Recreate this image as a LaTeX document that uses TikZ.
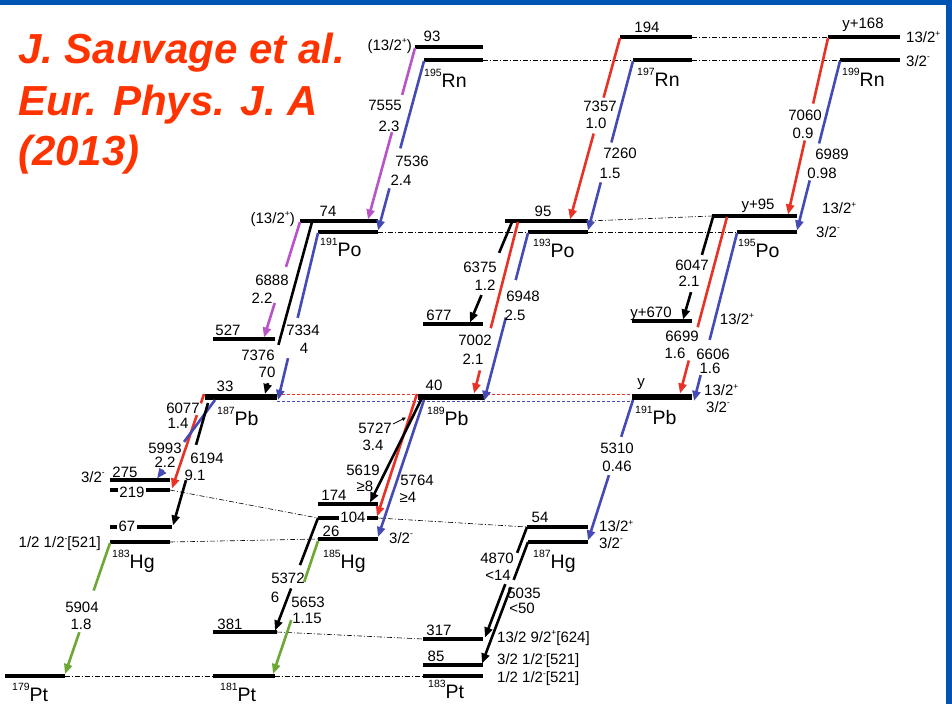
\documentclass[tikz,border=0pt]{standalone}
\usepackage{fontspec}
\setmainfont{Liberation Sans}
\usetikzlibrary{arrows.meta,calc}

\definecolor{tred}{RGB}{232,50,38}
\definecolor{tblue}{RGB}{70,74,180}
\definecolor{tmag}{RGB}{184,84,200}
\definecolor{tgreen}{RGB}{108,168,52}
\definecolor{ttitle}{RGB}{255,51,0}
\definecolor{tframe}{RGB}{0,84,180}

% nucleus label: mass number raised before the element symbol
\newcommand\nuc[2]{\raisebox{10.5pt}{\fontsize{10.5}{10.5}\selectfont #1}#2}
% spin/parity with a small raised parity sign
\newcommand\spin[2]{#1\raisebox{6.5pt}{\fontsize{8.5}{8.5}\selectfont #2}}
% alpha transition between two named points
\newcommand\decay[4]{\coordinate (#2a) at (#3); \coordinate (#2b) at (#4);
  \draw[trans,#1] (#2a) -- (#2b);}
% white break in a transition line (fractions along it)
\newcommand\trgap[3]{\draw[gapline] ($(#1a)!#2!(#1b)$) -- ($(#1a)!#3!(#1b)$);}

\tikzset{
  lvl/.style={line width=3.2pt},
  pblvl/.style={line width=6pt},
  gslvl/.style={line width=4.2pt},
  trans/.style={line width=2.6pt,-{Triangle[length=10pt,width=8pt]}},
  gapline/.style={white,line width=5pt},
  ddot/.style={line width=0.6pt,dash pattern=on 5pt off 2pt on 1pt off 2pt},
  pbdot/.style={line width=1pt,dash pattern=on 2.5pt off 2.5pt},
  lab/.style={font=\fontsize{15}{15}\selectfont,inner sep=1pt},
  slab/.style={lab,inner sep=0pt},
  wlab/.style={lab,fill=white,inner sep=1.5pt},
  nucl/.style={font=\fontsize{19.5}{19.5}\selectfont,inner sep=0pt,anchor=base west},
  ttl/.style={font=\fontsize{42}{42}\selectfont\bfseries\itshape,text=ttitle,inner sep=0pt,anchor=base west},
}

\begin{document}
\begin{tikzpicture}[x=1pt,y=-1pt]
\useasboundingbox (0,0) rectangle (952,704);
\fill[white] (0,0) rectangle (952,704);

% frame
\fill[tframe] (0,0) rectangle (952,5);
\fill[tframe] (946,0) rectangle (952,704);

% title
\node[ttl] (t1) at (18,63) {J. Sauvage et al.};
\node[ttl] (t2) at (18,115) {Eur. Phys. J. A};
\node[ttl] (t3) at (18,165) {(2013)};

% level end points
\foreach \n/\xa/\xb/\y in {
  rn5i/415/483/47, rn5g/424/483/60, rn7i/620/692/37, rn7g/633/692/60,
  rn9i/828/900/37, rn9g/840/900/60,
  po1i/300/378/221, po1g/318/378/232, po3i/505/588/221, po3g/528/588/232,
  po5i/712/797/216, po5g/737/797/232,
  l527/213/275/339, l677/423/483/324, l670/632/692/321,
  pb7/205/277/397, pb9/418/484/397, pb1/632/692/397,
  l275/110/170/480, l219/110/170/490, l67/110/172/527, hg3/110/170/542,
  l174/318/378/504, l104/318/378/518, hg5/318/378/539,
  hg7i/527/588/527, hg7g/528/588/542,
  pt9/5/65/676, l381/213/277/632, pt1/213/275/676,
  l317/423/483/639, l85/423/483/665, pt3/423/483/676}
  {\coordinate (\n-l) at (\xa,\y); \coordinate (\n-r) at (\xb,\y);}

% dash-dotted links between corresponding levels
\draw[ddot] (rn5g-r) -- (rn7g-l);
\draw[ddot] (rn7i-r) -- (rn9i-l);
\draw[ddot] (rn7g-r) -- (rn9g-l);
\draw[ddot] (po1g-r) -- (po3g-l);
\draw[ddot] (po3i-r) -- (po5i-l);
\draw[ddot] (po3g-r) -- (po5g-l);
\draw[ddot] (l219-r) -- (l104-l);
\draw[ddot] (l104-r) -- (hg7i-l);
\draw[ddot] (hg3-r) -- (hg5-l);
\draw[ddot] (pt9-r) -- (pt1-l);
\draw[ddot] (l381-r) -- (l317-l);
\draw[ddot] (pt1-r) -- (pt3-l);

% dotted links between the Pb levels
\draw[pbdot,tred] ($(pb7-r)+(0,-2.5)$) -- ($(pb1-l)+(0,-2.5)$);
\draw[pbdot,tblue] ($(pb7-r)+(0,4)$) -- ($(pb1-l)+(0,4)$);

% levels
\foreach \n in {rn5i,rn5g,rn7i,rn7g,rn9i,rn9g,po1i,po1g,po3i,po3g,po5i,po5g,
  l527,l677,l670,l275,l219,l67,hg3,l174,l104,hg7i,hg7g,l381,l317,l85}
  \draw[lvl] (\n-l) -- (\n-r);
\foreach \n in {pb7,pb9,pb1} \draw[pblvl] (\n-l) -- (\n-r);
\foreach \n in {hg5,pt9,pt1,pt3} \draw[gslvl] (\n-l) -- (\n-r);

% Rn -> Po
\decay{tmag}{t7555}{415,48}{368,219.5}   \trgap{t7555}{0.274}{0.49}
\decay{tblue}{t7536}{424,61}{378,230.5}  \trgap{t7536}{0.516}{0.751}
\decay{tred}{t7357}{620,38}{570,219.5}   \trgap{t7357}{0.329}{0.526}
\decay{tblue}{t7260}{633,61}{588,230.5}  \trgap{t7260}{0.481}{0.716}
\decay{tred}{t7060}{828,38}{788,214.5}   \trgap{t7060}{0.372}{0.58}
\decay{tblue}{t6989}{840,61}{797,230.5}  \trgap{t6989}{0.487}{0.704}

% Po -> Pb
\decay{tmag}{t6888}{300,222}{264,337.5}  \trgap{t6888}{0.39}{0.70}
\decay{black}{t7376}{312,222}{265,394}   \trgap{t7376}{0.715}{0.936}
\decay{tblue}{t7334}{318,233}{278,400}   \trgap{t7334}{0.509}{0.749}
\decay{black}{t6375}{512,222}{470,322.5} \trgap{t6375}{0.308}{0.726}
\decay{tred}{t7002}{518,222}{474,393.5}  \trgap{t7002}{0.62}{0.865}
\decay{tblue}{t6948}{528,233}{484,401}   \trgap{t6948}{0.281}{0.503}
\decay{black}{t6047}{713,217}{683,319.5} \trgap{t6047}{0.371}{0.732}
\decay{tred}{t6699}{727,217}{680,393.5}  \trgap{t6699}{0.625}{0.8125}
\decay{tblue}{t6606}{737,233}{694,401}   \trgap{t6606}{0.637}{0.845}

% Pb -> Hg
\decay{tred}{t6077}{204,394}{172,488.5}  \trgap{t6077}{0.1}{0.222}
\decay{tblue}{t5993}{215,400}{157,478.5} \trgap{t5993}{0.535}{0.89}
\decay{black}{t6194}{208,403}{173,525.5} \trgap{t6194}{0.343}{0.629}
\decay{tred}{t5800}{417,394}{377,516.5}
\decay{black}{t5727}{422,398}{370,502.5}
\decay{tblue}{t5764}{424,400}{378,537}
\decay{tblue}{t5310}{633,400}{588,540.5} \trgap{t5310}{0.263}{0.534}

% Hg -> Pt
\decay{tgreen}{t5904}{110,543}{65,674}   \trgap{t5904}{0.364}{0.68}
\decay{black}{t5372}{318,518}{275,630.5} \trgap{t5372}{0.42}{0.625}
\decay{tgreen}{t5653}{318,541}{273,674}  \trgap{t5653}{0.308}{0.594}
\decay{black}{t4870}{527,527}{485,637.5} \trgap{t4870}{0.235}{0.516}
\decay{black}{t5035}{528,542}{482,663.5} \trgap{t5035}{0.313}{0.37}

% pointer to the 5727 line
\coordinate (p1) at (393,424);
\coordinate (p2) at (406,417.5);
\draw[line width=0.8pt,-{Triangle[length=4pt,width=3.5pt]}] (p1) -- (p2);

% transition labels: energy / intensity
\node[lab] (a7555) at (385,105) {7555}; \node[lab] (i7555) at (389,126) {2.3};
\node[lab] (a7536) at (412,161) {7536}; \node[lab] (i7536) at (401,180) {2.4};
\node[lab] (a7357) at (600,106) {7357}; \node[lab] (i7357) at (596,123) {1.0};
\node[lab] (a7260) at (620,153) {7260}; \node[lab] (i7260) at (610,173) {1.5};
\node[lab] (a7060) at (805,115) {7060}; \node[lab] (i7060) at (803,133) {0.9};
\node[lab] (a6989) at (832,154) {6989}; \node[lab] (i6989) at (822,173) {0.98};
\node[lab] (a6888) at (272,280) {6888}; \node[lab] (i6888) at (262,298) {2.2};
\node[lab] (a7376) at (258,355) {7376}; \node[lab] (i7376) at (267,372) {70};
\node[lab] (a7334) at (303,330) {7334}; \node[lab] (i7334) at (304,348) {4};
\node[lab] (a6375) at (480,267) {6375}; \node[lab] (i6375) at (485,285) {1.2};
\node[lab] (a7002) at (475,340) {7002}; \node[lab] (i7002) at (473,359) {2.1};
\node[lab] (a6948) at (523,296) {6948}; \node[lab] (i6948) at (515,315) {2.5};
\node[lab] (a6047) at (692,265) {6047}; \node[lab] (i6047) at (689,281) {2.1};
\node[lab] (a6699) at (682,336) {6699}; \node[lab] (i6699) at (675,353) {1.6};
\node[lab] (a6606) at (713,354) {6606}; \node[lab] (i6606) at (710,368) {1.6};
\node[lab] (a6077) at (183,408) {6077}; \node[lab] (i6077) at (178,423) {1.4};
\node[lab] (a5993) at (165,448) {5993}; \node[lab] (i5993) at (165,462) {2.2};
\node[lab] (a6194) at (207,458) {6194}; \node[lab] (i6194) at (195,475) {9.1};
\node[lab] (a5727) at (375,428) {5727}; \node[lab] (i5727) at (373,445) {3.4};
\node[lab] (a5619) at (363,470) {5619}; \node[lab] (i5619) at (365,486) {≥8};
\node[lab] (a5764) at (417,480) {5764}; \node[lab] (i5764) at (408,497) {≥4};
\node[lab] (a5310) at (617,448) {5310}; \node[lab] (i5310) at (617,466) {0.46};
\node[lab] (a5904) at (82,607) {5904};  \node[lab] (i5904) at (81,624) {1.8};
\node[lab] (a5372) at (288,578) {5372}; \node[lab] (i5372) at (275,597) {6};
\node[lab] (a5653) at (308,602) {5653}; \node[lab] (i5653) at (307,618) {1.15};
\node[lab] (a4870) at (497,558) {4870}; \node[lab] (i4870) at (498,575) {<14};
\node[lab] (a5035) at (524,593) {5035}; \node[lab] (i5035) at (522,608) {<50};

% level energies and spins
\node[lab] (e93) at (432,36) {93};
\node[lab,anchor=east] (s195i) at (413,46) {(\spin{13/2}{+})};
\node[lab] (e194) at (647,27) {194};
\node[lab] (ey168) at (863,25) {y+168};
\node[lab,anchor=west] (s199i) at (905,37) {\spin{13/2}{+}};
\node[lab,anchor=west] (s199g) at (905,61) {\spin{3/2}{-}};
\node[lab,anchor=east] (s191i) at (296,219) {(\spin{13/2}{+})};
\node[lab] (e74) at (328,211) {74};
\node[lab] (e95) at (543,211) {95};
\node[lab] (ey95) at (758,206) {y+95};
\node[lab,anchor=west] (s195Pi) at (821,208) {\spin{13/2}{+}};
\node[lab,anchor=west] (s195Pg) at (815,232) {\spin{3/2}{-}};
\node[lab] (e527) at (228,330) {527};
\node[lab] (e677) at (439,315) {677};
\node[lab] (ey670) at (651,314) {y+670};
\node[lab] (s6606) at (737,319) {\spin{13/2}{+}};
\node[lab] (e33) at (225,386) {33};
\node[lab] (e40) at (434,385) {40};
\node[lab] (ey) at (641,384) {y};
\node[slab,anchor=west] (s191Pi) at (704,390) {\spin{13/2}{+}};
\node[slab,anchor=west] (s191Pg) at (706,407) {\spin{3/2}{-}};
\node[lab,anchor=east] (s275) at (106,477) {\spin{3/2}{-}};
\node[lab] (e275) at (125,472) {275};
\node[wlab] (e219) at (132,492) {219};
\node[wlab] (e67) at (127,526) {67};
\node[lab,anchor=east] (s183Hg) at (102,544) {1/2 \spin{1/2}{-}[521]};
\node[lab] (e174) at (334,495) {174};
\node[wlab] (e104) at (353,517) {104};
\node[lab] (e26) at (331,531) {26};
\node[lab,anchor=west] (s185Hg) at (388,538) {\spin{3/2}{-}};
\node[lab] (e54) at (540,517) {54};
\node[lab,anchor=west] (s187i) at (598,526) {\spin{13/2}{+}};
\node[lab,anchor=west] (s187g) at (598,543) {\spin{3/2}{-}};
\node[lab] (e381) at (230,624) {381};
\node[lab] (e317) at (439,630) {317};
\node[lab] (e85) at (436,656) {85};
\node[lab,anchor=west] (s317) at (496,638) {13/2 \spin{9/2}{+}[624]};
\node[lab,anchor=west] (s85) at (496,661) {3/2 \spin{1/2}{-}[521]};
\node[lab,anchor=west] (s0) at (496,679) {1/2 \spin{1/2}{-}[521]};

% nuclei
\node[nucl] (n195Rn) at (424,87) {\nuc{195}{Rn}};
\node[nucl] (n197Rn) at (637,86) {\nuc{197}{Rn}};
\node[nucl] (n199Rn) at (842,86) {\nuc{199}{Rn}};
\node[nucl] (n191Po) at (320,256) {\nuc{191}{Po}};
\node[nucl] (n193Po) at (533,257) {\nuc{193}{Po}};
\node[nucl] (n195Po) at (738,257) {\nuc{195}{Po}};
\node[nucl] (n187Pb) at (217,425) {\nuc{187}{Pb}};
\node[nucl] (n189Pb) at (427,425) {\nuc{189}{Pb}};
\node[nucl] (n191Pb) at (635,424) {\nuc{191}{Pb}};
\node[nucl] (n183Hg) at (112,568) {\nuc{183}{Hg}};
\node[nucl] (n185Hg) at (323,568) {\nuc{185}{Hg}};
\node[nucl] (n187Hg) at (533,568) {\nuc{187}{Hg}};
\node[nucl] (n179Pt) at (12,701) {\nuc{179}{Pt}};
\node[nucl] (n181Pt) at (220,701) {\nuc{181}{Pt}};
\node[nucl] (n183Pt) at (428,698) {\nuc{183}{Pt}};
\end{tikzpicture}
\end{document}
